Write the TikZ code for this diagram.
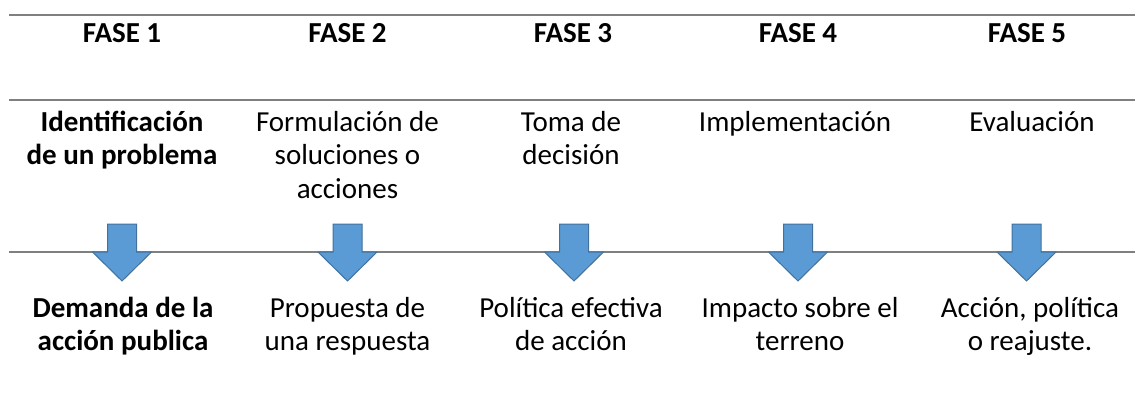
\documentclass[tikz,border=0pt]{standalone}
\usepackage{fontspec}
\setmainfont{Carlito}

\definecolor{lijngrijs}{HTML}{808080}
\definecolor{pijlblauw}{HTML}{5B9BD5}
\definecolor{pijlrand}{HTML}{41719C}

\begin{document}
\begin{tikzpicture}[x = 1pt, y = -1pt,
	tekst/.style = {anchor = base, align = center, inner sep = 0pt, font = \fontsize{29}{33.5}\selectfont},
	lijn/.style = {lijngrijs, line width = 2pt},
	pijl/.style = {fill = pijlblauw, draw = pijlrand, line width = 1pt, line join = miter}]
				%	canvas
				\useasboundingbox (0, 0) rectangle (1135, 412);
				
				\def\xmin{9}
				\def\xmax{1135}
				\def\rij{131}		% first baseline, steps
				\def\res{317}		% first baseline, results
				\def\reg{33.5}
				
				%	lines
				\draw[lijn] (\xmin, 15) -- (\xmax, 15);
				\draw[lijn] (\xmin, 99.5) -- (\xmax, 99.5);
				\draw[lijn] (\xmin, 252) -- (\xmax, 252);
				
				%	arrows
				\foreach \x in {122, 347.5, 574, 798, 1026.5}
				{
					\draw[pijl] (\x - 14.5, 224) -- (\x + 14.5, 224) -- (\x + 14.5, 252) -- (\x + 29.5, 252)
						-- (\x, 281) -- (\x - 29.5, 252) -- (\x - 14.5, 252) -- cycle;
				}
				
				%	phases
				\node[tekst] (fase1) at (122, 43) {\textbf{FASE 1}};
				\node[tekst] (fase2) at (347.5, 43) {\textbf{FASE 2}};
				\node[tekst] (fase3) at (573, 43) {\textbf{FASE 3}};
				\node[tekst] (fase4) at (798, 43) {\textbf{FASE 4}};
				\node[tekst] (fase5) at (1027, 43) {\textbf{FASE 5}};
				
				%	steps (base = last line)
				\node[tekst] (stap1) at (122, \rij + \reg) {\textbf{Identificación}\\\textbf{de un problema}};
				\node[tekst] (stap2) at (347.5, \rij + 2*\reg) {Formulación de\\soluciones o\\acciones};
				\node[tekst] (stap3) at (571, \rij + \reg) {Toma de\\decisión};
				\node[tekst] (stap4) at (795, \rij) {Implementación};
				\node[tekst] (stap5) at (1032, \rij) {Evaluación};
				
				%	results
				\node[tekst] (uitk1) at (123, \res + \reg) {\textbf{Demanda de la}\\\textbf{acción publica}};
				\node[tekst] (uitk2) at (347.5, \res + \reg) {Propuesta de\\una respuesta};
				\node[tekst] (uitk3) at (571, \res + \reg) {Política efectiva\\de acción};
				\node[tekst] (uitk4) at (800, \res + \reg) {Impacto sobre el\\terreno};
				\node[tekst] (uitk5) at (1030, \res + \reg) {Acción, política\\o reajuste.};
\end{tikzpicture}
\end{document}
